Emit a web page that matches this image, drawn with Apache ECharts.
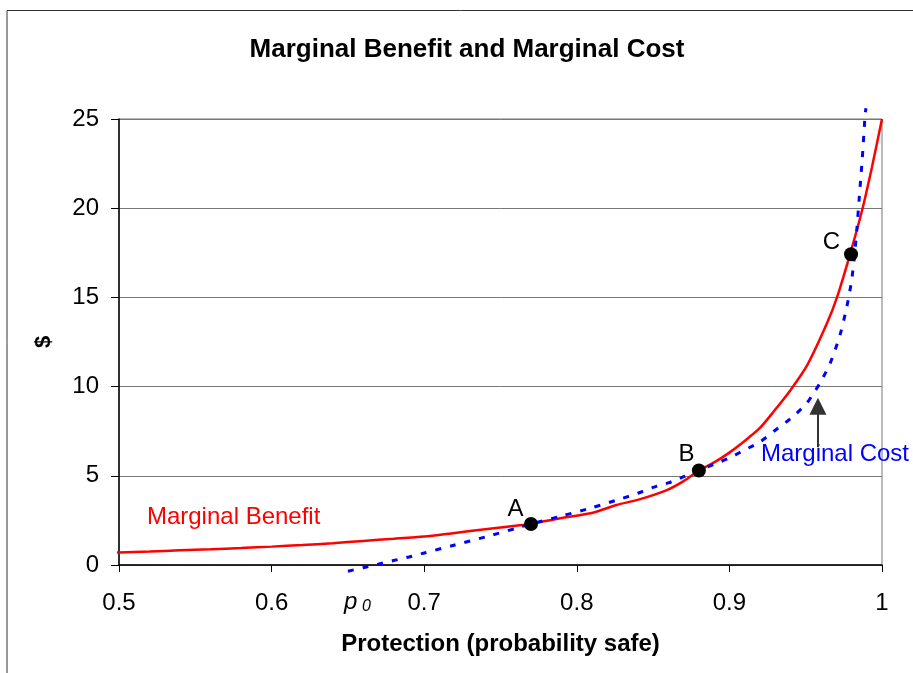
<!DOCTYPE html>
<html>
<head>
<meta charset="utf-8">
<script src="https://cdn.jsdelivr.net/npm/echarts@6/dist/echarts.min.js"></script>
<style>
html,body{margin:0;padding:0;background:#fff;}
#chart{width:913px;height:673px;}
</style>
</head>
<body>
<div id="chart"></div>
<script>
// ---- Data ----
var xTicks = [0.5, 0.6, 0.7, 0.8, 0.9, 1];
var yTicks = [0, 5, 10, 15, 20, 25];

// Marginal Benefit (red solid)
var mbX = [0.496,0.50,0.52,0.54,0.56,0.58,0.60,0.62,0.64,0.66,0.68,0.70,0.72,0.74,0.76,0.77,0.789,0.809,0.826,0.841,0.859,0.87,0.88,0.89,0.90,0.91,0.92,0.929,0.94,0.951,0.964,0.9705,0.979,0.987,0.9934,1.00];
var mbY = [0.69,0.70,0.75,0.82,0.88,0.95,1.03,1.12,1.22,1.35,1.47,1.60,1.80,2.00,2.20,2.30,2.62,2.90,3.36,3.68,4.20,4.70,5.30,5.75,6.30,6.95,7.68,8.60,9.80,11.2,13.56,15.0,17.4,19.9,22.3,25.0];

// Marginal Cost (blue dotted)
var mcX = [0.650,0.66,0.67,0.68,0.69,0.70,0.72,0.74,0.76,0.77,0.79,0.81,0.83,0.84,0.85,0.86,0.87,0.88,0.89,0.90,0.91,0.92,0.93,0.94,0.95,0.955,0.96,0.966,0.9725,0.977,0.98,0.9817,0.9836,0.985,0.987,0.989,0.9895];
var mcY = [-0.35,-0.15,0.05,0.25,0.45,0.67,1.12,1.57,2.05,2.30,2.75,3.21,3.74,4.02,4.35,4.60,4.95,5.30,5.65,6.00,6.45,6.90,7.55,8.20,9.00,9.60,10.3,11.3,12.9,14.5,15.9,17.1,18.9,20.5,22.7,25.3,25.6];

// Labelled points
var ptLabels = ['A', 'B', 'C'];
var ptX = [0.77, 0.88, 0.9797];
var ptY = [2.30, 5.30, 17.42];

// Arrow (Marginal Cost pointer)
var arrowX = 0.958;
var arrowY = [6.6, 8.9];

// Text annotations
var titleText = 'Marginal Benefit and Marginal Cost';
var xName = 'Protection (probability safe)';
var yName = '$';
var mbText = 'Marginal Benefit', mbTextPos = [0.5183, 2.69];
var mcText = 'Marginal Cost', mcTextPos = [0.9207, 6.22];
var p0Pos = [0.6475, -2.1];

// ---- Build ----
function zip(a, b) { return a.map(function (v, i) { return [v, b[i]]; }); }
var labelOffsets = [[-15.5, -15], [-12.5, -16], [-19.5, -12]];
var ptData = ptX.map(function (x, i) {
  return {
    value: [x, ptY[i]],
    label: { show: true, formatter: ptLabels[i], position: 'inside', offset: labelOffsets[i] }
  };
});

var FONT = '"Liberation Sans", Arial, sans-serif';
var chart = echarts.init(document.getElementById('chart'), null, { renderer: 'canvas' });

var option = {
  animation: false,
  backgroundColor: '#fff',
  title: {
    text: titleText,
    left: 462, top: 32, textAlign: 'center',
    textStyle: { fontFamily: FONT, fontSize: 26, fontWeight: 'bold', color: '#000' }
  },
  grid: { left: 119, top: 119, right: 31, bottom: 108, show: true, borderColor: '#777', borderWidth: 1 },
  xAxis: {
    type: 'value', min: xTicks[0], max: xTicks[xTicks.length - 1], interval: 0.1,
    name: xName, nameLocation: 'middle', nameGap: 67,
    nameTextStyle: { fontFamily: FONT, fontSize: 24, fontWeight: 'bold', color: '#000' },
    axisLine: { show: true, lineStyle: { color: '#000', width: 1.5 } },
    axisTick: { show: true, length: 7, inside: false, lineStyle: { color: '#000' } },
    axisLabel: { fontFamily: FONT, fontSize: 24, color: '#000', margin: 26,
      formatter: function (v) { return String(Math.round(v * 10) / 10); } },
    splitLine: { show: false }
  },
  yAxis: {
    type: 'value', min: yTicks[0], max: yTicks[yTicks.length - 1], interval: 5,
    name: yName, nameLocation: 'middle', nameGap: 64, nameRotate: 90,
    nameTextStyle: { fontFamily: FONT, fontSize: 22, fontWeight: 'bold', color: '#000' },
    axisLine: { show: true, lineStyle: { color: '#000', width: 1.5 } },
    axisTick: { show: true, length: 8, inside: false, lineStyle: { color: '#000' } },
    axisLabel: { fontFamily: FONT, fontSize: 24, color: '#000', margin: 20 },
    splitLine: { show: true, lineStyle: { color: '#777', width: 1 } }
  },
  series: [
    {
      name: 'Marginal Benefit', type: 'line', data: zip(mbX, mbY), showSymbol: false,
      symbol: 'none', clip: false, z: 3, smooth: 0.25,
      lineStyle: { color: '#ff0000', width: 2.5 }
    },
    {
      name: 'Marginal Cost', type: 'line', data: zip(mcX, mcY), showSymbol: false,
      symbol: 'none', clip: false, z: 4, smooth: 0.25,
      lineStyle: { color: '#0000ff', width: 3, type: [6, 9] },
      markLine: {
        silent: true, symbol: ['none', 'triangle'], symbolSize: [17, 17],
        lineStyle: { color: '#333', width: 2, type: 'solid' },
        label: { show: false },
        data: [[{ coord: [arrowX, arrowY[0]] }, { coord: [arrowX, arrowY[1]] }]]
      }
    },
    {
      name: 'Points', type: 'scatter', data: ptData, symbolSize: 14, clip: false, z: 5,
      itemStyle: { color: '#000', opacity: 1 },
      label: { fontFamily: FONT, fontSize: 24, color: '#000' }
    }
  ]
};
chart.setOption(option);

function px(p) { return chart.convertToPixel({ gridIndex: 0 }, p); }
var a = px(mbTextPos), b = px(mcTextPos), c = px(p0Pos);
chart.setOption({
  graphic: [
    { type: 'rect', shape: { x: 7, y: 10.5, width: 1000, height: 1000 }, silent: true, z: -1,
      style: { fill: 'none', stroke: '#333', lineWidth: 1 } },
    { type: 'text', x: a[0], y: a[1], silent: true,
      style: { text: mbText, fill: '#ff0000', font: '24px ' + FONT, textAlign: 'left', textVerticalAlign: 'middle' } },
    { type: 'text', x: b[0], y: b[1], silent: true,
      style: { text: mcText, fill: '#0000ff', font: '24px ' + FONT, textAlign: 'left', textVerticalAlign: 'middle' } },
    { type: 'text', x: c[0], y: c[1], silent: true,
      style: { text: '{p|p}{s| 0}', textAlign: 'left', textVerticalAlign: 'middle',
        rich: {
          p: { fontFamily: FONT, fontSize: 24, fontStyle: 'italic', fill: '#000', color: '#000' },
          s: { fontFamily: FONT, fontSize: 16, fontStyle: 'italic', fill: '#000', color: '#000', verticalAlign: 'bottom' }
        } } }
  ]
});
</script>
</body>
</html>
